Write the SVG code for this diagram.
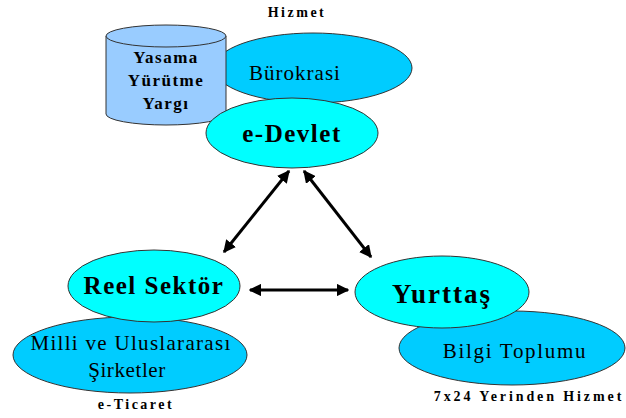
<svg xmlns="http://www.w3.org/2000/svg" width="626" height="418" viewBox="0 0 626 418">
<defs>
<marker id="ah" viewBox="0 0 10 10" refX="9" refY="5" markerWidth="4.2" markerHeight="4.2" orient="auto-start-reverse" markerUnits="strokeWidth">
<path d="M0,0 L10,5 L0,10 Z" fill="#000"/>
</marker>
<style>
.blue{fill:#00ccff;stroke:#333;stroke-width:1}
.cyan{fill:#00ffff;stroke:#333;stroke-width:1}
.cyl{fill:#99ccff;stroke:#333;stroke-width:1}
text{fill:#000;text-anchor:middle}
.sm{font-size:14px;font-weight:bold;letter-spacing:2.5px}
.md{font-size:21px}
.big{font-size:25px;font-weight:bold;letter-spacing:1.5px}
.cy{font-size:17px;font-weight:bold;letter-spacing:1.5px}
.conn{stroke:#000;stroke-width:3;fill:none;marker-start:url(#ah);marker-end:url(#ah)}
</style>
</defs>
<rect width="626" height="418" fill="#fff"/>
<g font-family="'Liberation Serif', 'Times New Roman', serif">
<text class="sm" x="297" y="17">Hizmet</text>
<g id="burokrasi">
<ellipse class="blue" cx="313" cy="68" rx="99" ry="35"/>
<text class="md" x="295" y="80" style="letter-spacing:1px">Bürokrasi</text>
</g>
<g id="yasama">
<path class="cyl" d="M106,36 L106,114 A60,11 0 0 0 226,114 L226,36"/>
<ellipse class="cyl" cx="166" cy="36" rx="60" ry="11"/>
<text class="cy" x="166" y="63">Yasama</text>
<text class="cy" x="166" y="86">Yürütme</text>
<text class="cy" x="166" y="109">Yargı</text>
</g>
<g id="edevlet">
<ellipse class="cyan" cx="292" cy="133" rx="86" ry="35"/>
<text class="big" x="292" y="142">e-Devlet</text>
</g>
<g id="milli">
<ellipse class="blue" cx="130" cy="355" rx="117" ry="38"/>
<text class="md" x="131" y="350" style="letter-spacing:1.3px">Milli ve Uluslararası</text>
<text class="md" x="127" y="377" style="letter-spacing:0.6px">Şirketler</text>
</g>
<g id="reel">
<ellipse class="cyan" cx="154" cy="286" rx="86" ry="36"/>
<text class="big" x="154" y="294">Reel Sektör</text>
</g>
<text class="sm" x="136" y="409">e-Ticaret</text>
<g id="bilgi">
<ellipse class="blue" cx="512" cy="348" rx="113" ry="37"/>
<text class="md" x="515" y="358" style="letter-spacing:1.7px">Bilgi Toplumu</text>
</g>
<g id="yurttas">
<ellipse class="cyan" cx="442" cy="292" rx="87" ry="36"/>
<text class="big" x="442" y="303" style="font-size:27px;letter-spacing:2px">Yurttaş</text>
</g>
<text class="sm" x="529" y="401" style="letter-spacing:2.9px">7x24 Yerinden Hizmet</text>
</g>
<g id="connectors">
<line class="conn" x1="289" y1="171" x2="224" y2="252"/>
<line class="conn" x1="304" y1="171" x2="371" y2="257"/>
<line class="conn" x1="250" y1="290" x2="348" y2="290"/>
</g>
</svg>
